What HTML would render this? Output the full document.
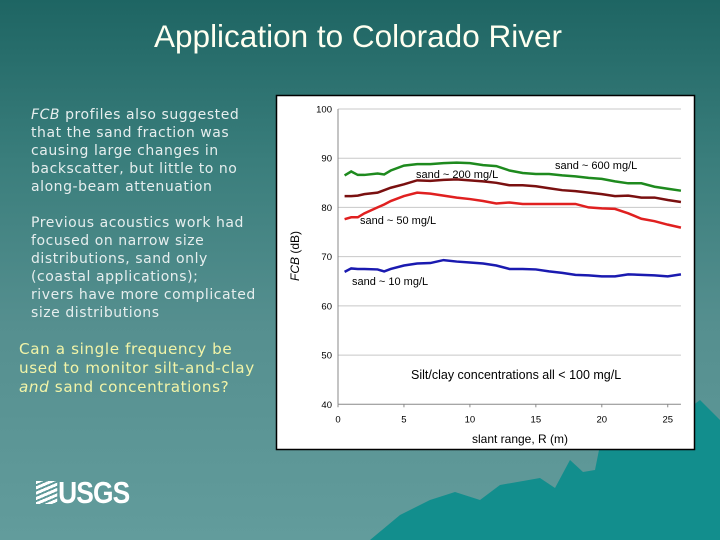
<!DOCTYPE html>
<html><head><meta charset="utf-8"><style>
body{margin:0;width:720px;height:540px;overflow:hidden;font-family:"Liberation Sans",sans-serif}
#slide{position:relative;width:720px;height:540px;background:linear-gradient(#1e6563 0%,#3a7e7c 30%,#558f8f 60%,#629c9c 100%);overflow:hidden}
.t{position:absolute;color:#e6eeee;font-family:"DejaVu Sans",sans-serif;font-size:14px;line-height:18px;letter-spacing:0.55px;white-space:nowrap}
</style></head><body>
<div id="slide">
<div style="position:absolute;left:0;width:716px;top:18px;text-align:center;color:#fffff0;font-size:31.5px">Application to Colorado River</div>
<div class="t" style="left:31px;top:106px"><i>FCB</i> profiles also suggested<br>that the sand fraction was<br>causing large changes in<br>backscatter, but little to no<br>along-beam attenuation</div>
<div class="t" style="left:31px;top:214px">Previous acoustics work had<br>focused on narrow size<br>distributions, sand only<br>(coastal applications);<br>rivers have more complicated<br>size distributions</div>
<div class="t" style="left:19px;top:340px;color:#f2f4a8;font-size:15.2px;line-height:19px;letter-spacing:0.6px">Can a single frequency be<br>used to monitor silt-and-clay<br><i>and</i> sand concentrations?</div>
<div style="position:absolute;left:36px;top:475px;color:#fff;font-weight:bold;font-size:31px;letter-spacing:-1px;transform:scaleX(0.85);transform-origin:left"><span style="display:inline-block;width:25px;height:23px;background:repeating-linear-gradient(160deg,#fff 0 3px,transparent 3px 5px);vertical-align:-1px;margin-right:1px"></span>USGS</div>
<svg style="position:absolute;left:0;top:0" width="720" height="540"><polygon fill="#128e8d" points="370,540 400,515 430,500 455,492 480,500 500,485 540,478 555,488 570,460 583,472 595,470 600,445 625,425 650,405 680,415 700,400 720,420 720,540"/></svg>
<svg id="chart" style="position:absolute;left:0;top:0" width="720" height="540"></svg>
</div>
<script>
const xs=[0.5,1,1.5,2,3,3.5,4,5,6,7,8,9,10,11,12,13,14,15,16,17,18,19,20,21,22,23,24,25,26];
const green=[86.5,87.3,86.6,86.6,86.9,86.7,87.5,88.5,88.8,88.8,89,89.1,89,88.6,88.4,87.5,87,86.8,86.8,86.5,86.3,86,85.8,85.3,84.9,84.9,84.2,83.8,83.4];
const darkred=[82.3,82.3,82.4,82.7,83,83.5,84,84.7,85.5,85.4,85.6,85.7,85.5,85.3,85,84.5,84.5,84.3,83.9,83.5,83.3,83,82.7,82.3,82.4,82,82,81.5,81.1];
const red=[77.6,78,78,78.8,80,80.6,81.3,82.3,83,82.8,82.4,82,81.7,81.3,80.8,81,80.7,80.7,80.7,80.7,80.7,80,79.8,79.7,78.8,77.7,77.2,76.5,75.9];
const blue=[66.9,67.6,67.5,67.5,67.4,67,67.5,68.2,68.6,68.7,69.3,69,68.8,68.6,68.2,67.5,67.5,67.4,67,66.7,66.3,66.2,66,66,66.4,66.3,66.2,66,66.4];
const yTicks=[40,50,60,70,80,90,100];
const xTicks=[0,5,10,15,20,25];
const NS="http://www.w3.org/2000/svg",svg=document.getElementById('chart');
const X=v=>338+v*13.19, Y=v=>404.3-(v-40)*4.922;
function mk(t,a,txt){const e=document.createElementNS(NS,t);for(const k in a)e.setAttribute(k,a[k]);if(txt!=null)e.textContent=txt;svg.appendChild(e);return e;}
let e=mk('rect',{x:276.5,y:95.5,width:418,height:354,fill:'#fff',stroke:'#000','stroke-width':1.5});

yTicks.forEach(v=>{
 if(v>40){e=mk('line',{x1:X(0),x2:X(26),y1:Y(v),y2:Y(v),stroke:'#c8c8c8','stroke-width':1});
 }
 e=mk('text',{x:X(0)-6,y:Y(v)+3.5,'text-anchor':'end','font-size':9.5,fill:'#000','font-family':'Liberation Sans'},v);
 
});
xTicks.forEach(v=>{
 e=mk('text',{x:X(v),y:Y(40)+18,'text-anchor':'middle','font-size':9.5,'font-family':'Liberation Sans'},v);
 
 mk('line',{x1:X(v),x2:X(v),y1:Y(40),y2:Y(40)+3,stroke:'#888'});
});
e=mk('line',{x1:X(0),x2:X(0),y1:Y(100),y2:Y(40),stroke:'#888'});
e=mk('line',{x1:X(0),x2:X(26),y1:Y(40),y2:Y(40),stroke:'#888'});
[[green,'#1e8a1e','series-600'],[darkred,'#7a1010','series-200'],[red,'#e02020','series-50'],[blue,'#1a1ab0','series-10']].forEach(([d,c,n])=>{
 e=mk('polyline',{points:xs.map((x,i)=>X(x)+','+Y(d[i])).join(' '),fill:'none',stroke:c,'stroke-width':2.5});
 
});
[['sand ~ 600 mg/L',555,169,'label-600'],['sand ~ 200 mg/L',416,178,'label-200'],['sand ~ 50 mg/L',360,224,'label-50'],['sand ~ 10 mg/L',352,285,'label-10'],['Silt/clay concentrations all < 100 mg/L',411,379,'note-silt-clay']].forEach(([t,x,y,n])=>{
 e=mk('text',{x:x,y:y,'font-size':n=='note-silt-clay'?12.5:11,'font-family':'Liberation Sans'},t);
 
});
e=mk('text',{x:520,y:443,'text-anchor':'middle','font-size':12,'font-family':'Liberation Sans'},'slant range, R (m)');

e=mk('text',{x:0,y:0,'text-anchor':'middle','font-size':12,'font-family':'Liberation Sans',transform:'translate(299,256) rotate(-90)'},'');
e.innerHTML='<tspan font-style="italic">FCB</tspan> (dB)';

</script>
</body></html>
